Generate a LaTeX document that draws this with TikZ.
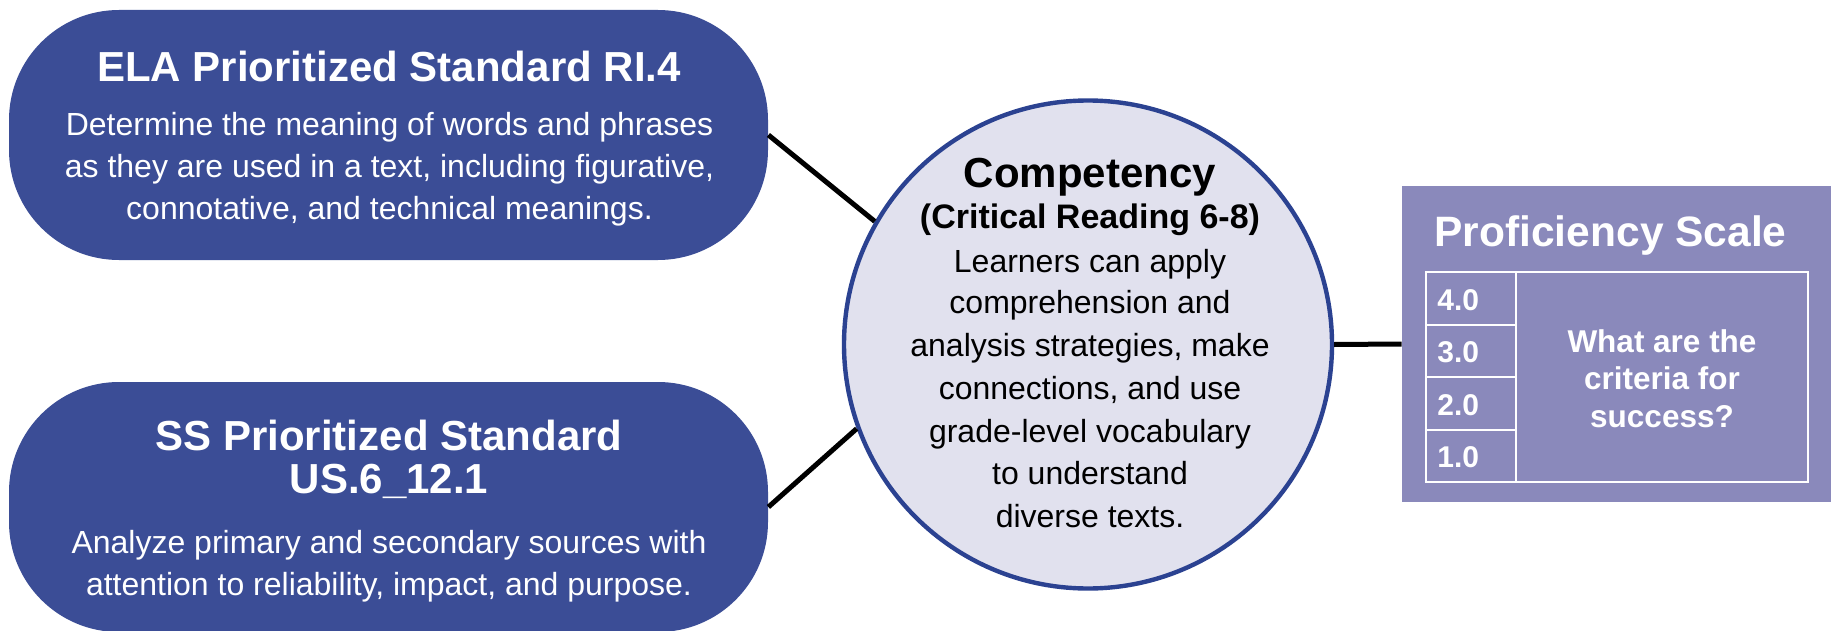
\documentclass[tikz,border=0pt]{standalone}
\usepackage{fontspec}
\setmainfont{Liberation Sans}
\definecolor{boxblue}{RGB}{59,77,150}
\definecolor{circfill}{RGB}{225,225,238}
\definecolor{circborder}{RGB}{43,66,145}
\definecolor{profbg}{RGB}{138,137,187}
\tikzset{
  stdbox/.style={fill=boxblue, rounded corners=55pt, minimum width=379.5pt, minimum height=125pt, inner sep=0pt},
  wtitle/.style={text=white, font=\fontsize{21}{25}\selectfont\bfseries, anchor=base, inner sep=0pt},
  wbody/.style={text=white, font=\fontsize{16}{20}\selectfont, anchor=base, inner sep=0pt},
  ctitle/.style={text=black, font=\fontsize{21}{25}\selectfont\bfseries, anchor=base, inner sep=0pt},
  csub/.style={text=black, font=\fontsize{17}{20}\selectfont\bfseries, anchor=base, inner sep=0pt},
  cbody/.style={text=black, font=\fontsize{16}{20}\selectfont, anchor=base, inner sep=0pt},
  ptitle/.style={text=white, font=\fontsize{21.25}{25}\selectfont\bfseries, anchor=base, inner sep=0pt},
  plabel/.style={text=white, font=\fontsize{15}{18}\selectfont\bfseries, anchor=base west, inner sep=0pt},
  pq/.style={text=white, font=\fontsize{15.75}{19}\selectfont\bfseries, anchor=base, inner sep=0pt},
  link/.style={line width=2.5pt, draw=black},
  tbl/.style={line width=1.2pt, draw=white},
}
\begin{document}
\begin{tikzpicture}[x=0.5pt,y=-0.5pt]
\useasboundingbox (0,0) rectangle (1831,631);
\clip (0,0) rectangle (1831,631);
% boxes
\node[stdbox] (ela) at (388.5,135) {};
\node[stdbox] (ss) at (388.5,507) {};
\node[circle, draw=circborder, fill=circfill, line width=2.2pt, minimum size=244pt, inner sep=0pt] (circ) at (1088,344.5) {};
\node[fill=profbg, minimum width=214.5pt, minimum height=158pt, inner sep=0pt] (prof) at (1616.5,344) {};
% connectors
\draw[link] (ela.east) -- (circ.150.7);
\draw[link] (ss.east) -- (circ.200.6);
\draw[link] (circ.east) -- (prof.west);
% ELA text
\node[wtitle] (elat) at (389,82) {ELA Prioritized Standard RI.4};
\node[wbody] (ela1) at (389.5,135) {Determine the meaning of words and phrases};
\node[wbody] (ela2) at (389.5,177.5) {as they are used in a text, including figurative,};
\node[wbody] (ela3) at (389.5,220) {connotative, and technical meanings.};
% SS text
\node[wtitle] (sst1) at (389,450) {SS Prioritized Standard};
\node[wtitle] (sst2) at (389,493) {US.6\_12.1};
\node[wbody] (ss1) at (389,553) {Analyze primary and secondary sources with};
\node[wbody] (ss2) at (389,595) {attention to reliability, impact, and purpose.};
% circle text
\node[ctitle] (ct) at (1090,187) {Competency};
\node[csub] (cs) at (1090,228) {(Critical Reading 6-8)};
\node[cbody] (c1) at (1090,272) {Learners can apply};
\node[cbody] (c2) at (1090,313.5) {comprehension and};
\node[cbody] (c3) at (1090,356) {analysis strategies, make};
\node[cbody] (c4) at (1090,399) {connections, and use};
\node[cbody] (c5) at (1090,442) {grade-level vocabulary};
\node[cbody] (c6) at (1090,484.5) {to understand};
\node[cbody] (c7) at (1090,527) {diverse texts.};
% proficiency scale
\node[ptitle] (pt) at (1610.5,246) {Proficiency Scale};
\draw[tbl] (1426,272) rectangle (1808,482);
\draw[tbl] (1516,272) -- (1516,482);
\draw[tbl] (1426,325) -- (1516,325);
\draw[tbl] (1426,377) -- (1516,377);
\draw[tbl] (1426,430) -- (1516,430);
\node[plabel] (p4) at (1437,310) {4.0};
\node[plabel] (p3) at (1437,362) {3.0};
\node[plabel] (p2) at (1437,415) {2.0};
\node[plabel] (p1) at (1437,467) {1.0};
\node[pq] (q1) at (1662,352) {What are the};
\node[pq] (q2) at (1662,389.5) {criteria for};
\node[pq] (q3) at (1662,427) {success?};
\end{tikzpicture}
\end{document}
